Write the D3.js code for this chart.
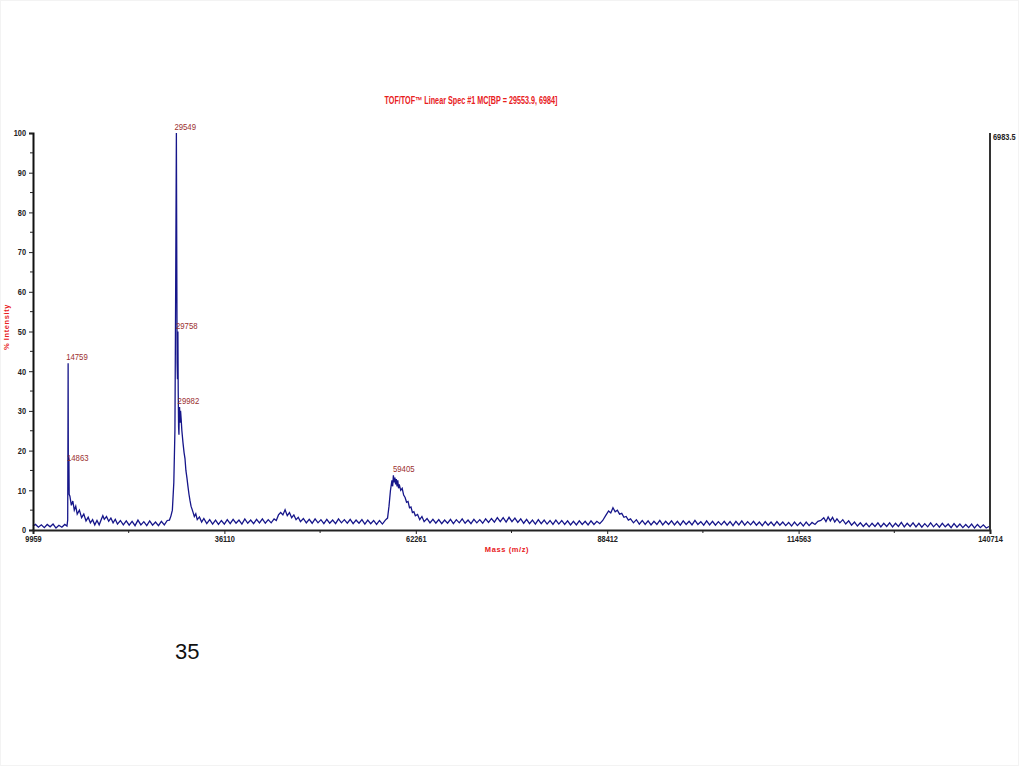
<!DOCTYPE html>
<html><head><meta charset="utf-8">
<script src="https://cdn.jsdelivr.net/npm/d3@7"></script>
<style>
html,body{margin:0;padding:0;background:#fff;}
svg{display:block;}
</style></head>
<body>
<svg id="chart" width="1024" height="767"></svg>
<script>
// ---- data: mass (m/z) vs % intensity ----
const title = "TOF/TOF\u2122 Linear Spec #1 MC[BP = 29553.9, 6984]";
const xTicks = [9959, 36110, 62261, 88412, 114563, 140714];
const yTicks = [0, 10, 20, 30, 40, 50, 60, 70, 80, 90, 100];
const maxCounts = "6983.5";
const pageNumber = "35";

const spectrumLow = [
 [9959,1.0],[10300,1.4],[10700,0.7],[11100,1.3],[11500,0.6],[11900,1.4],[12300,0.8],[12700,1.5],[13100,0.5],[13500,1.2],[13900,0.7],[14300,1.4],[14600,1.0],[14700,2.5],[14740,28],[14759,42],[14790,14],[14830,10],[14863,18],[14900,9],[15000,8.5],[15200,6.2],[15400,7.3],[15600,5.0],[15800,6.0],[16000,4.0],[16300,5.0],[16600,3.1],[16900,4.0],[17200,2.3],[17500,3.2],[17800,1.8],[18100,2.6],[18400,1.3],[18700,2.4],[19000,1.3],[19300,2.7],[19500,3.6],[19700,2.7],[20000,3.4],[20300,2.2],[20600,3.0],[20900,1.8],[21200,2.7],[21500,1.5],[21900,2.4],[22300,1.3],[22700,2.3],[23100,1.2],[23500,2.2],[23900,1.1],[24300,2.5],[24700,1.3],[25100,2.1],[25500,1.1],[25900,2.3],[26300,1.2],[26700,2.0],[27100,1.1],[27500,2.2],[27900,1.3],[28300,2.4],[28600,2.5],[28800,3.5]
];
const spectrumMain = [
 [29000,5],[29200,12],[29350,25],[29450,60],[29549,100],[29600,70],[29650,42],[29700,38],[29758,50],[29800,35],[29850,26],[29900,24],[29940,30],[29982,31],[30050,27],[30120,30],[30200,28],[30300,25],[30450,22],[30600,19.5],[30725,18],[30850,15],[31000,13],[31130,11],[31270,9],[31400,7.5],[31550,6],[31700,5.2],[31820,4.5],[32000,3.4],[32200,4.1],[32400,2.6],[32700,3.3],[33000,2.0],[33300,2.9],[33700,1.6],[34100,2.6],[34500,1.5],[34900,2.5],[35300,1.4],[35700,2.4],[36100,1.5],[36500,2.6],[36900,1.6],[37300,2.7],[37700,1.7],[38100,2.5],[38500,1.5],[38900,2.8],[39300,1.7],[39700,2.5],[40100,1.6],[40500,2.7],[40900,1.8],[41300,2.8],[41700,1.7],[42100,2.6],[42500,1.8],[42900,2.8],[43200,2.4],[43500,3.8],[43800,4.4],[44100,3.8],[44400,5.1],[44700,3.6],[45000,4.4],[45300,3.1],[45600,3.8],[45900,2.6],[46200,3.2],[46500,2.1],[46900,2.9],[47300,1.8],[47700,2.7],[48100,1.7],[48500,2.8],[48900,1.8],[49300,2.6],[49700,1.6],[50100,2.7],[50500,1.7],[50900,2.5],[51300,1.6],[51700,2.8],[52100,1.8],[52500,2.6],[52900,1.7],[53300,2.7],[53700,1.6],[54100,2.5],[54500,1.7],[54900,2.6],[55300,1.5],[55700,2.5],[56100,1.6],[56500,2.4],[56900,1.4],[57300,2.4],[57700,1.5],[58100,2.5]
];
const spectrumMid = [
 [58400,3],[58600,6],[58800,10],[59000,12.5],[59100,11],[59200,13.8],[59300,12],[59405,13.2],[59500,11.5],[59600,12.8],[59700,11],[59800,12.5],[59900,10.5],[60000,11.5],[60200,10],[60400,10.5],[60600,8.8],[60800,8.2],[61000,7],[61200,7.2],[61400,5.6],[61600,5.8],[61800,4.4],[62000,4.6],[62200,3.6],[62500,3.9],[62800,2.6],[63100,3.4],[63400,2.1],[63800,2.9],[64200,1.8],[64600,2.7],[65000,1.7],[65400,2.6],[65800,1.6],[66200,2.5],[66600,1.7],[67000,2.7],[67400,1.6],[67800,2.6],[68200,1.8],[68600,2.8],[69000,1.7],[69400,2.5],[69800,1.6],[70200,2.7],[70600,1.8],[71000,2.6],[71400,1.7],[71800,2.8],[72200,1.9],[72600,2.9],[73000,2.0],[73400,3.1],[73800,2.1],[74200,3.1],[74600,2.0],[75000,3.2],[75400,2.1],[75800,3.0],[76200,1.9],[76600,2.8],[77000,1.7],[77400,2.7],[77800,1.6],[78200,2.5],[78600,1.5],[79000,2.6],[79400,1.6],[79800,2.5],[80200,1.5],[80600,2.4],[81000,1.4],[81400,2.5],[81800,1.5],[82200,2.4],[82600,1.4],[83000,2.3],[83400,1.3],[83800,2.2],[84200,1.3],[84600,2.3],[85000,1.4],[85400,2.2],[85800,1.3],[86200,2.3],[86600,1.4],[87000,2.2],[87400,1.6],[87800,2.4]
];
const spectrumHigh = [
 [88200,3.6],[88600,4.8],[88900,4.3],[89200,5.6],[89500,4.6],[89800,5.0],[90100,4.0],[90400,4.2],[90700,3.2],[91000,3.4],[91300,2.5],[91600,2.8],[92000,1.8],[92400,2.6],[92800,1.5],[93200,2.4],[93600,1.4],[94000,2.3],[94400,1.3],[94800,2.2],[95200,1.4],[95600,2.4],[96000,1.3],[96400,2.2],[96800,1.4],[97200,2.3],[97600,1.3],[98000,2.2],[98400,1.2],[98800,2.3],[99200,1.4],[99600,2.2],[100000,1.3],[100400,2.4],[100800,1.4],[101200,2.1],[101600,1.2],[102000,2.3],[102400,1.3],[102800,2.2],[103200,1.2],[103600,2.1],[104000,1.3],[104400,2.2],[104800,1.2],[105200,2.1],[105600,1.1],[106000,2.2],[106400,1.3],[106800,2.3],[107200,1.2],[107600,2.1],[108000,1.3],[108400,2.2],[108800,1.2],[109200,2.0],[109600,1.1],[110000,2.1],[110400,1.2],[110800,2.0],[111200,1.1],[111600,2.1],[112000,1.2],[112400,2.0],[112800,1.1],[113200,1.9],[113600,1.0],[114000,2.0],[114400,1.1],[114800,1.9],[115200,1.0],[115600,2.0],[116000,1.1],[116400,1.9],[116800,1.4],[117200,2.2],[117600,2.4],[118000,3.1],[118300,2.1],[118600,3.3],[118900,2.3],[119200,3.2],[119500,2.0],[119800,2.8],[120200,1.8],[120600,2.6],[121000,1.5],[121400,2.3],[121800,1.2],[122200,2.0],[122600,1.0],[123000,1.8],[123400,0.9],[123800,1.7],[124200,0.8],[124600,1.7],[125000,0.9],[125400,1.8],[125800,0.8],[126200,1.7],[126600,0.9],[127000,1.8],[127400,0.8],[127800,1.7],[128200,0.9],[128600,1.9],[129000,0.8],[129400,1.7],[129800,0.9],[130200,1.8],[130600,0.8],[131000,1.7],[131400,0.7],[131800,1.6],[132200,0.8],[132600,1.8],[133000,0.8],[133400,1.6],[133800,0.7],[134200,1.7],[134600,0.8],[135000,1.5],[135400,0.6],[135800,1.6],[136200,0.7],[136600,1.5],[137000,0.6],[137400,1.4],[137800,0.6],[138200,1.5],[138600,0.5],[139000,1.4],[139400,0.6],[139800,1.3],[140200,0.5],[140714,1.0]
];
const peakLabels = ["14759", "14863", "29549", "29758", "29982", "59405"];
const peakLevels = [42, 16.5, 100, 50, 31, 13.8];

// ---- drawing ----
const svg = d3.select("#chart");
const sans = "'Liberation Sans',Arial,sans-serif";
const plotLeft = 33, plotRight = 990, plotTop = 133, plotBottom = 530;

// condense text horizontally (narrow-font look)
function condense(sel, factor) {
  sel.each(function () {
    const w = this.getComputedTextLength();
    d3.select(this).attr("textLength", w * factor).attr("lengthAdjust", "spacingAndGlyphs");
  });
}

const x = d3.scaleLinear().domain([xTicks[0], xTicks[xTicks.length - 1]]).range([plotLeft, plotRight]);
const y = d3.scaleLinear().domain([0, 100]).range([plotBottom, plotTop]);

svg.append("rect").attr("x", 0.5).attr("y", 0.5).attr("width", 1018).attr("height", 765)
  .attr("fill", "#fff").attr("stroke", "#f3f3f3");

const data = spectrumLow.concat(spectrumMain, spectrumMid, spectrumHigh);

svg.append("path").datum(data)
  .attr("fill", "none").attr("stroke", "#16168a").attr("stroke-width", 1.3)
  .attr("stroke-linejoin", "miter")
  .attr("d", d3.line().x(d => x(d[0])).y(d => y(d[1])));

// y axis
const minorY = d3.range(0, 101, 5);
const yAxis = d3.axisLeft(y).tickValues(yTicks).tickSize(4).tickPadding(3).tickFormat(d3.format("d"));
const gy = svg.append("g").attr("transform", `translate(${plotLeft},0)`).call(yAxis);
gy.select(".domain").attr("stroke", "#111").attr("stroke-width", 2);
gy.selectAll(".tick line").attr("stroke", "#222");
gy.selectAll(".tick text").attr("font-family", sans).attr("font-size", 9).attr("font-weight", "bold").attr("fill", "#222")
  .call(condense, 0.82);
svg.append("g").selectAll("line").data(minorY.filter(v => v % 10 !== 0)).join("line")
  .attr("x1", plotLeft - 3).attr("x2", plotLeft).attr("y1", d => y(d)).attr("y2", d => y(d))
  .attr("stroke", "#222");

// x axis
const xAxis = d3.axisBottom(x).tickValues(xTicks).tickSize(4).tickPadding(2).tickFormat(d3.format("d"));
const gx = svg.append("g").attr("transform", `translate(0,${plotBottom})`).call(xAxis);
gx.select(".domain").attr("stroke", "#222").attr("stroke-width", 2);
gx.selectAll(".tick line").attr("stroke", "#222");
gx.selectAll(".tick text").attr("font-family", sans).attr("font-size", 9).attr("font-weight", "bold").attr("fill", "#222")
  .call(condense, 0.82);
const minorX = d3.pairs(xTicks).map(p => (p[0] + p[1]) / 2);
svg.append("g").selectAll("line").data(minorX).join("line")
  .attr("x1", d => x(d)).attr("x2", d => x(d)).attr("y1", plotBottom).attr("y2", plotBottom + 3)
  .attr("stroke", "#222");

// right axis line
svg.append("line").attr("x1", plotRight).attr("x2", plotRight).attr("y1", plotTop).attr("y2", plotBottom)
  .attr("stroke", "#333").attr("stroke-width", 2);
svg.append("text").attr("x", plotRight + 3).attr("y", plotTop + 7).text(maxCounts)
  .attr("font-family", sans).attr("font-size", 9).attr("font-weight", "bold").attr("fill", "#222")
  .call(condense, 0.82);

// title
svg.append("text").attr("x", 471).attr("y", 104).attr("text-anchor", "middle").text(title)
  .attr("font-family", sans).attr("font-size", 10).attr("font-weight", "bold").attr("fill", "#e8201c")
  .attr("textLength", 173).attr("lengthAdjust", "spacingAndGlyphs");

// axis titles
svg.append("text").attr("transform", "translate(9,327) rotate(-90)").attr("text-anchor", "middle")
  .text("% Intensity").attr("font-family", sans).attr("font-size", 7.5)
  .attr("font-weight", "bold").attr("fill", "#e8201c").attr("letter-spacing", 0.6);
svg.append("text").attr("x", 507).attr("y", 552).attr("text-anchor", "middle")
  .text("Mass (m/z)").attr("font-family", sans).attr("font-size", 7.5)
  .attr("font-weight", "bold").attr("fill", "#e8201c").attr("letter-spacing", 0.6);

// peak labels
svg.append("g").selectAll("text").data(peakLabels).join("text")
  .attr("x", d => x(+d) - 2).attr("y", (d, i) => y(peakLevels[i]) - 3)
  .text(d => d).attr("font-family", sans).attr("font-size", 9.5).attr("fill", "#9b2f2f")
  .call(condense, 0.82);

// page number
svg.append("text").attr("x", 175).attr("y", 659).text(pageNumber)
  .attr("font-family", sans).attr("font-size", 22).attr("fill", "#111");
</script>
</body></html>
